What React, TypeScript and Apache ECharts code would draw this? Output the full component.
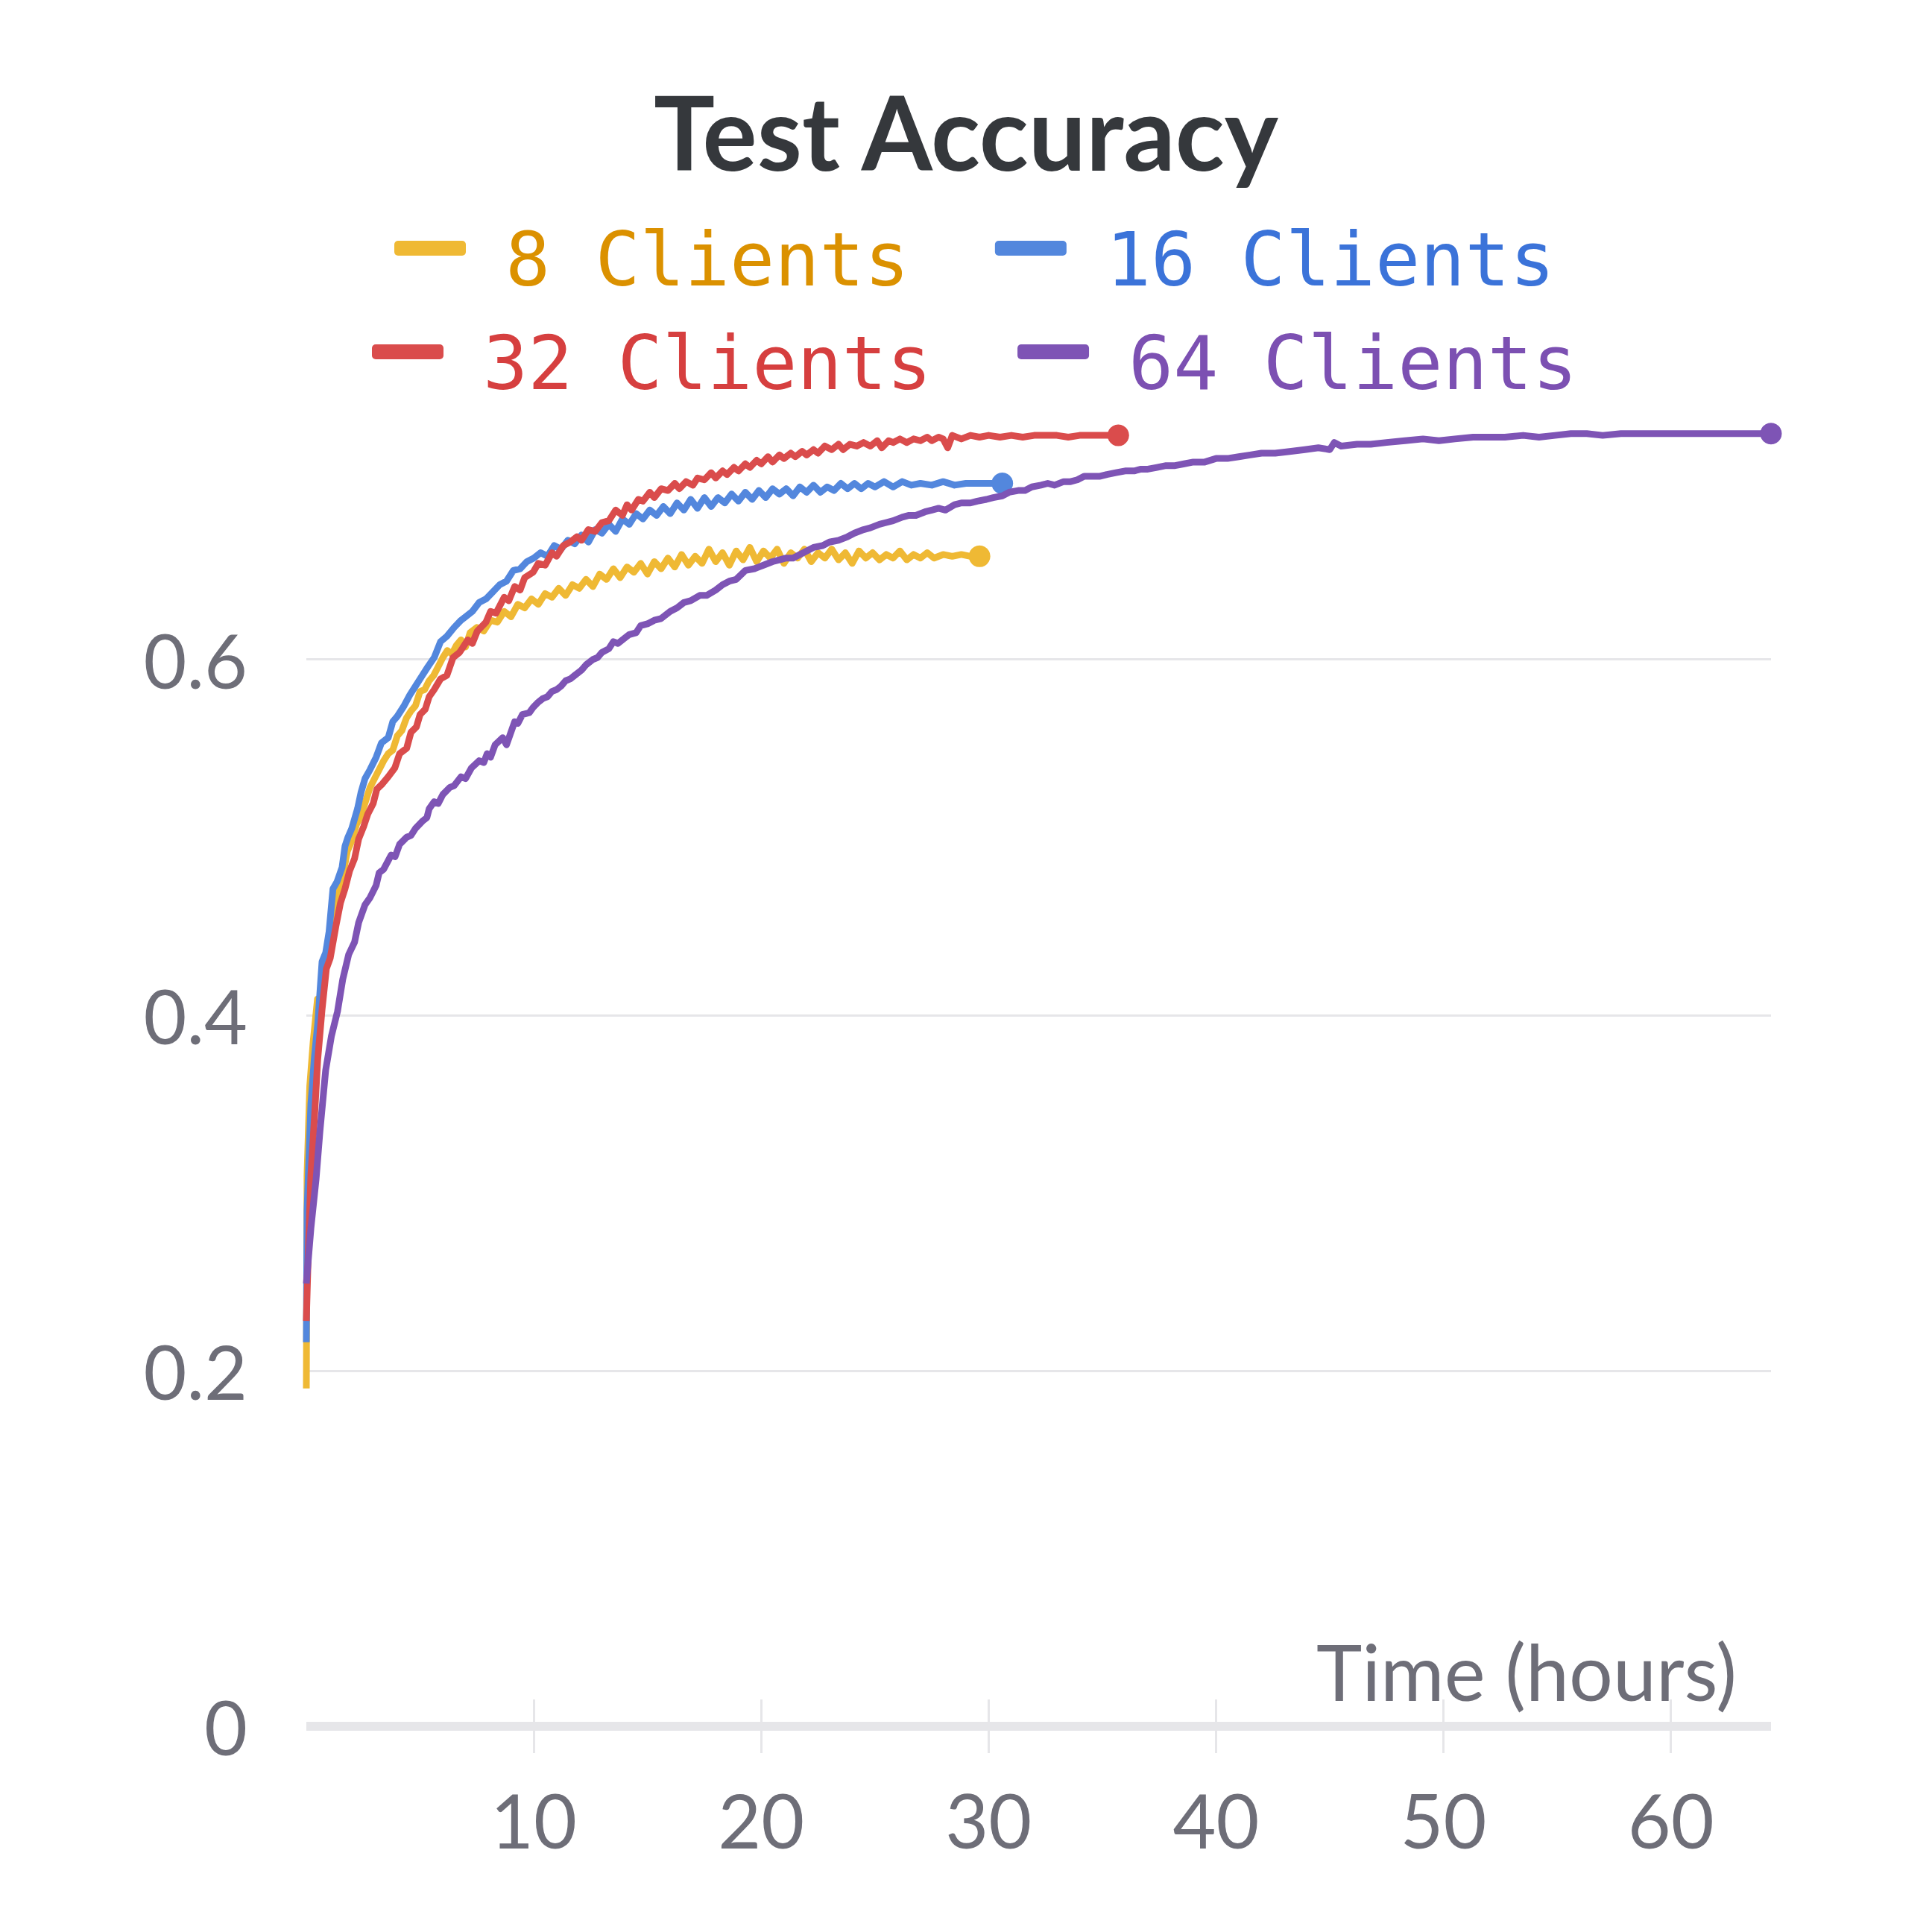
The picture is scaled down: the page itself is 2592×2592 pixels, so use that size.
import React, { useEffect, useRef } from "react";
import * as echarts from "echarts";

const seriesNames = ["8 Clients", "16 Clients", "32 Clients", "64 Clients"];
const xTicks = [10, 20, 30, 40, 50, 60];
const yTicks = [0, 0.2, 0.4, 0.6];

const clients8: number[][] = [
  [0, 0.19], [0.03, 0.31], [0.15, 0.36], [0.3, 0.385], [0.49, 0.409], [0.6, 0.405], [0.8, 0.425], [1.0, 0.437],
  [1.24, 0.452], [1.44, 0.47], [1.6, 0.478], [1.8, 0.492], [2.0, 0.498], [2.2, 0.507], [2.4, 0.512], [2.6, 0.52],
  [2.8, 0.528], [3.0, 0.533], [3.2, 0.538], [3.4, 0.543], [3.6, 0.547], [3.8, 0.549], [4.0, 0.557], [4.2, 0.56],
  [4.4, 0.567], [4.6, 0.571], [4.8, 0.574], [5.0, 0.582], [5.2, 0.583], [5.4, 0.588], [5.6, 0.591], [5.8, 0.596],
  [6.0, 0.601], [6.2, 0.605], [6.4, 0.603], [6.6, 0.608], [6.8, 0.611], [7.0, 0.607], [7.2, 0.615], [7.5, 0.618],
  [7.8, 0.616], [8.1, 0.622], [8.4, 0.621], [8.7, 0.627], [9.0, 0.624], [9.3, 0.631], [9.6, 0.629], [9.9, 0.634],
  [10.2, 0.631], [10.5, 0.637], [10.8, 0.635], [11.1, 0.64], [11.4, 0.636], [11.7, 0.642], [12.0, 0.64], [12.3, 0.645],
  [12.6, 0.641], [12.9, 0.648], [13.2, 0.645], [13.5, 0.651], [13.8, 0.646], [14.1, 0.652], [14.4, 0.649], [14.7, 0.654],
  [15.0, 0.648], [15.3, 0.655], [15.6, 0.651], [15.9, 0.657], [16.2, 0.652], [16.5, 0.659], [16.8, 0.653], [17.1, 0.658],
  [17.4, 0.654], [17.7, 0.662], [18.0, 0.655], [18.3, 0.66], [18.6, 0.653], [18.9, 0.661], [19.2, 0.656], [19.5, 0.663],
  [19.8, 0.655], [20.1, 0.661], [20.4, 0.657], [20.7, 0.662], [21.0, 0.654], [21.3, 0.66], [21.6, 0.657], [21.9, 0.662],
  [22.2, 0.655], [22.5, 0.66], [22.8, 0.657], [23.1, 0.662], [23.4, 0.656], [23.7, 0.66], [24.0, 0.654], [24.3, 0.661],
  [24.6, 0.657], [24.9, 0.66], [25.2, 0.656], [25.5, 0.659], [25.8, 0.657], [26.1, 0.661], [26.4, 0.656], [26.7, 0.659],
  [27.0, 0.657], [27.3, 0.66], [27.6, 0.657], [28.0, 0.659], [28.4, 0.658], [28.8, 0.659], [29.2, 0.658], [29.6, 0.658],
];

const clients16: number[][] = [
  [0, 0.216], [0.03, 0.29], [0.2, 0.35], [0.36, 0.377], [0.5, 0.395], [0.69, 0.43], [0.85, 0.435], [1.0, 0.447],
  [1.17, 0.471], [1.35, 0.475], [1.57, 0.483], [1.7, 0.495], [1.83, 0.5], [2.0, 0.505], [2.25, 0.516], [2.4, 0.525],
  [2.58, 0.533], [2.8, 0.538], [3.07, 0.545], [3.3, 0.553], [3.6, 0.556], [3.8, 0.565], [4.0, 0.568], [4.3, 0.574],
  [4.55, 0.58], [4.8, 0.585], [5.1, 0.591], [5.35, 0.596], [5.62, 0.601], [5.9, 0.61], [6.18, 0.613], [6.5, 0.618],
  [6.8, 0.622], [7.0, 0.624], [7.3, 0.627], [7.6, 0.632], [7.9, 0.634], [8.2, 0.638], [8.5, 0.642], [8.8, 0.644],
  [9.1, 0.65], [9.4, 0.651], [9.7, 0.655], [10.0, 0.657], [10.3, 0.66], [10.6, 0.658], [10.9, 0.664], [11.2, 0.662],
  [11.5, 0.667], [11.8, 0.665], [12.1, 0.67], [12.4, 0.666], [12.7, 0.673], [13.0, 0.671], [13.3, 0.676], [13.6, 0.672],
  [13.9, 0.679], [14.2, 0.676], [14.5, 0.682], [14.8, 0.679], [15.1, 0.684], [15.4, 0.681], [15.7, 0.686], [16.0, 0.682],
  [16.3, 0.688], [16.6, 0.684], [16.9, 0.69], [17.2, 0.685], [17.5, 0.691], [17.8, 0.686], [18.1, 0.691], [18.4, 0.688],
  [18.7, 0.693], [19.0, 0.689], [19.3, 0.694], [19.6, 0.69], [19.9, 0.695], [20.2, 0.691], [20.5, 0.696], [20.8, 0.693],
  [21.1, 0.696], [21.4, 0.692], [21.7, 0.697], [22.0, 0.694], [22.3, 0.698], [22.6, 0.694], [22.9, 0.697], [23.2, 0.695],
  [23.5, 0.699], [23.8, 0.696], [24.1, 0.699], [24.4, 0.696], [24.7, 0.699], [25.0, 0.697], [25.4, 0.7], [25.8, 0.697],
  [26.2, 0.7], [26.6, 0.698], [27.0, 0.699], [27.5, 0.698], [28.0, 0.7], [28.5, 0.698], [29.0, 0.699], [29.5, 0.699],
  [30.0, 0.699], [30.6, 0.699],
];

const clients32: number[][] = [
  [0, 0.228], [0.1, 0.273], [0.2, 0.31], [0.36, 0.343], [0.5, 0.375], [0.69, 0.403], [0.88, 0.426], [1.05, 0.432],
  [1.3, 0.45], [1.5, 0.463], [1.7, 0.471], [1.9, 0.481], [2.12, 0.488], [2.3, 0.499], [2.52, 0.506], [2.7, 0.513],
  [2.94, 0.519], [3.1, 0.527], [3.34, 0.53], [3.6, 0.534], [3.89, 0.539], [4.1, 0.547], [4.41, 0.55], [4.6, 0.559],
  [4.84, 0.562], [5.0, 0.569], [5.23, 0.572], [5.4, 0.579], [5.62, 0.583], [5.9, 0.589], [6.18, 0.591], [6.45, 0.601],
  [6.74, 0.604], [7.1, 0.611], [7.3, 0.609], [7.52, 0.616], [7.9, 0.621], [8.1, 0.627], [8.34, 0.626], [8.7, 0.635],
  [8.9, 0.633], [9.16, 0.641], [9.4, 0.639], [9.6, 0.646], [9.97, 0.649], [10.2, 0.654], [10.5, 0.653], [10.8, 0.66],
  [11.0, 0.658], [11.3, 0.664], [11.6, 0.666], [11.9, 0.669], [12.1, 0.667], [12.4, 0.673], [12.7, 0.672], [13.0, 0.677],
  [13.3, 0.678], [13.6, 0.684], [13.9, 0.681], [14.1, 0.687], [14.3, 0.684], [14.6, 0.69], [14.8, 0.689], [15.1, 0.694],
  [15.3, 0.691], [15.6, 0.696], [15.9, 0.695], [16.2, 0.699], [16.4, 0.696], [16.7, 0.7], [17.0, 0.698], [17.2, 0.702],
  [17.5, 0.701], [17.8, 0.705], [18.0, 0.702], [18.3, 0.706], [18.5, 0.704], [18.8, 0.708], [19.0, 0.706], [19.3, 0.71],
  [19.5, 0.708], [19.8, 0.712], [20.0, 0.71], [20.3, 0.714], [20.5, 0.711], [20.8, 0.715], [21.0, 0.713], [21.3, 0.716],
  [21.5, 0.714], [21.8, 0.717], [22.0, 0.715], [22.3, 0.718], [22.5, 0.716], [22.8, 0.72], [23.1, 0.718], [23.4, 0.721],
  [23.6, 0.718], [23.9, 0.721], [24.2, 0.72], [24.5, 0.722], [24.8, 0.72], [25.1, 0.723], [25.3, 0.719], [25.6, 0.723],
  [25.8, 0.722], [26.1, 0.724], [26.4, 0.722], [26.7, 0.724], [27.0, 0.723], [27.3, 0.725], [27.5, 0.723], [27.8, 0.725],
  [28.0, 0.724], [28.2, 0.719], [28.4, 0.726], [28.8, 0.724], [29.2, 0.726], [29.6, 0.725], [30.0, 0.726], [30.5, 0.725],
  [31.0, 0.726], [31.5, 0.725], [32.0, 0.726], [32.5, 0.726], [33.0, 0.726], [33.5, 0.725], [34.0, 0.726], [34.5, 0.726],
  [35.0, 0.726], [35.7, 0.726],
];

const clients64: number[][] = [
  [0, 0.249], [0.2, 0.28], [0.43, 0.308], [0.6, 0.335], [0.85, 0.369], [1.1, 0.388], [1.37, 0.402], [1.6, 0.42],
  [1.86, 0.434], [2.12, 0.441], [2.3, 0.452], [2.58, 0.462], [2.8, 0.466], [3.07, 0.473], [3.2, 0.48], [3.4, 0.482],
  [3.73, 0.49], [3.9, 0.489], [4.1, 0.496], [4.41, 0.5], [4.6, 0.501], [4.8, 0.505], [5.1, 0.509], [5.3, 0.511],
  [5.4, 0.516], [5.62, 0.52], [5.8, 0.519], [6.0, 0.524], [6.31, 0.528], [6.5, 0.529], [6.8, 0.534], [7.0, 0.533],
  [7.26, 0.539], [7.6, 0.543], [7.8, 0.542], [7.95, 0.547], [8.1, 0.545], [8.3, 0.552], [8.63, 0.556], [8.8, 0.552],
  [9.16, 0.565], [9.3, 0.564], [9.5, 0.569], [9.8, 0.57], [9.97, 0.573], [10.2, 0.576], [10.4, 0.578], [10.6, 0.579],
  [10.8, 0.582], [11.0, 0.583], [11.2, 0.585], [11.4, 0.588], [11.6, 0.589], [11.8, 0.591], [12.1, 0.594], [12.3, 0.597],
  [12.6, 0.6], [12.8, 0.601], [13.0, 0.604], [13.3, 0.606], [13.5, 0.61], [13.7, 0.609], [14.0, 0.612], [14.2, 0.614],
  [14.5, 0.615], [14.7, 0.619], [15.0, 0.62], [15.3, 0.622], [15.6, 0.623], [16.0, 0.627], [16.3, 0.629], [16.6, 0.632],
  [16.9, 0.633], [17.3, 0.636], [17.6, 0.636], [18.0, 0.639], [18.3, 0.642], [18.6, 0.644], [18.9, 0.645], [19.3, 0.65],
  [19.7, 0.651], [20.1, 0.653], [20.5, 0.655], [20.8, 0.656], [21.1, 0.657], [21.4, 0.657], [21.7, 0.659], [22.0, 0.661],
  [22.3, 0.663], [22.7, 0.664], [23.0, 0.666], [23.4, 0.667], [23.8, 0.669], [24.1, 0.671], [24.5, 0.673], [24.8, 0.674],
  [25.2, 0.676], [25.5, 0.677], [25.8, 0.678], [26.2, 0.68], [26.5, 0.681], [26.8, 0.681], [27.2, 0.683], [27.5, 0.684],
  [27.8, 0.685], [28.1, 0.684], [28.5, 0.687], [28.8, 0.688], [29.2, 0.688], [29.5, 0.689], [29.9, 0.69], [30.2, 0.691],
  [30.6, 0.692], [30.9, 0.694], [31.3, 0.695], [31.6, 0.695], [31.9, 0.697], [32.3, 0.698], [32.6, 0.699], [32.9, 0.698],
  [33.3, 0.7], [33.6, 0.7], [33.9, 0.701], [34.2, 0.703], [34.5, 0.703], [34.9, 0.703], [35.2, 0.704], [35.6, 0.705],
  [36.0, 0.706], [36.4, 0.706], [36.7, 0.707], [37.0, 0.707], [37.4, 0.708], [37.8, 0.709], [38.2, 0.709], [38.6, 0.71],
  [39.0, 0.711], [39.5, 0.711], [40.0, 0.713], [40.5, 0.713], [41.0, 0.714], [41.5, 0.715], [42.0, 0.716], [42.6, 0.716],
  [43.3, 0.717], [43.9, 0.718], [44.5, 0.719], [45.0, 0.718], [45.2, 0.722], [45.5, 0.72], [46.2, 0.721], [46.8, 0.721],
  [47.5, 0.722], [48.3, 0.723], [49.1, 0.724], [49.8, 0.723], [50.5, 0.724], [51.3, 0.725], [52.0, 0.725], [52.7, 0.725],
  [53.5, 0.726], [54.2, 0.725], [54.9, 0.726], [55.6, 0.727], [56.3, 0.727], [57.0, 0.726], [57.8, 0.727], [58.5, 0.727],
  [59.2, 0.727], [60.0, 0.727], [60.7, 0.727], [61.5, 0.727], [62.5, 0.727], [63.5, 0.727], [64.4, 0.727],
];

const allSeries = [clients8, clients16, clients32, clients64];
const lineColors = ["#efb934", "#5387dd", "#da4c4c", "#7e54b5"];
const textColors = ["#db9100", "#3b73d9", "#d63f3f", "#7c50b2"];

const LABEL_FONT = "Lato, 'Noto Sans', sans-serif";
const MONO_FONT = "'DejaVu Sans Mono', monospace";
const GRAY = "#6e6e78";
const LIGHT = "#e6e6e9";
const X_MAX = 64.4;

function buildOption() {
  const legendItem = (i: number) => ({
    name: seriesNames[i],
    textStyle: { color: textColors[i] },
  });
  const legendBase = {
    orient: "horizontal",
    padding: 0,
    itemWidth: 96,
    itemHeight: 20,
    itemGap: 115,
    icon: "roundRect",
    selectedMode: false,
    formatter: (name: string) => `{t|${name}}`,
    textStyle: {
      fontFamily: MONO_FONT,
      fontSize: 100,
      rich: {
        t: {
          fontFamily: MONO_FONT,
          fontSize: 100,
          padding: [30, 0, 0, 48],
        },
      },
    },
  };
  return {
    animation: false,
    backgroundColor: "#ffffff",
    title: {
      text: "Test Accuracy",
      left: "center",
      top: 102,
      textStyle: {
        fontFamily: LABEL_FONT,
        fontWeight: "bold",
        fontSize: 137,
        color: "#35383c",
      },
    },
    legend: [
      { ...legendBase, left: 529, top: 298, data: [legendItem(0), legendItem(1)] },
      { ...legendBase, left: 499, top: 437, data: [legendItem(2), legendItem(3)] },
    ],
    grid: {
      left: 411,
      right: 216,
      top: 503,
      bottom: 276,
      containLabel: false,
      outerBoundsMode: "none",
    },
    xAxis: [
      {
        type: "value",
        min: 0,
        max: X_MAX,
        interval: 10,
        position: "bottom",
        axisLine: { show: true, onZero: false, lineStyle: { color: LIGHT, width: 12, cap: "butt" } },
        axisTick: { show: true, customValues: xTicks, length: 36, lineStyle: { color: LIGHT, width: 3 } },
        axisLabel: { customValues: xTicks, margin: 75, fontFamily: LABEL_FONT, fontSize: 100, color: GRAY },
        splitLine: { show: false },
        name: "Time (hours)",
        nameLocation: "end",
        nameGap: -46,
        nameMoveOverlap: false,
        nameTextStyle: {
          fontFamily: LABEL_FONT,
          fontSize: 104,
          color: GRAY,
          align: "right",
          verticalAlign: "bottom",
          padding: [0, 0, 23, 0],
        },
      },
      {
        type: "value",
        min: 0,
        max: X_MAX,
        interval: 10,
        position: "bottom",
        axisLine: { show: false, onZero: false },
        axisTick: { show: true, inside: true, customValues: xTicks, length: 36, lineStyle: { color: LIGHT, width: 3 } },
        axisLabel: { show: false },
        splitLine: { show: false },
      },
    ],
    yAxis: {
      type: "value",
      min: 0,
      max: 0.76,
      interval: 0.2,
      axisLine: { show: false },
      axisTick: { show: false },
      axisLabel: { customValues: yTicks, margin: 79, fontFamily: LABEL_FONT, fontSize: 100, color: GRAY },
      splitLine: { show: true, showMinLine: false, showMaxLine: false, lineStyle: { color: LIGHT, width: 3 } },
    },
    series: allSeries.map((pts, i) => ({
      name: seriesNames[i],
      type: "line",
      xAxisIndex: 0,
      yAxisIndex: 0,
      symbol: "none",
      showSymbol: true,
      showAllSymbol: true,
      clip: false,
      silent: true,
      z: 2 + i,
      lineStyle: { width: 9, color: lineColors[i], cap: "butt", join: "round" },
      itemStyle: { color: lineColors[i] },
      emphasis: { disabled: true },
      data: pts.map((p, j) =>
        j === pts.length - 1 ? { value: p, symbol: "circle", symbolSize: 29 } : p
      ),
    })),
  };
}

export default function App() {
  const ref = useRef<HTMLDivElement>(null);
  useEffect(() => {
    document.body.style.margin = "0";
    if (!ref.current) return;
    const chart = echarts.init(ref.current, null, { renderer: "svg" });
    chart.setOption(buildOption() as any);
    return () => chart.dispose();
  }, []);
  return <div ref={ref} style={{ width: 2592, height: 2592 }} />;
}
